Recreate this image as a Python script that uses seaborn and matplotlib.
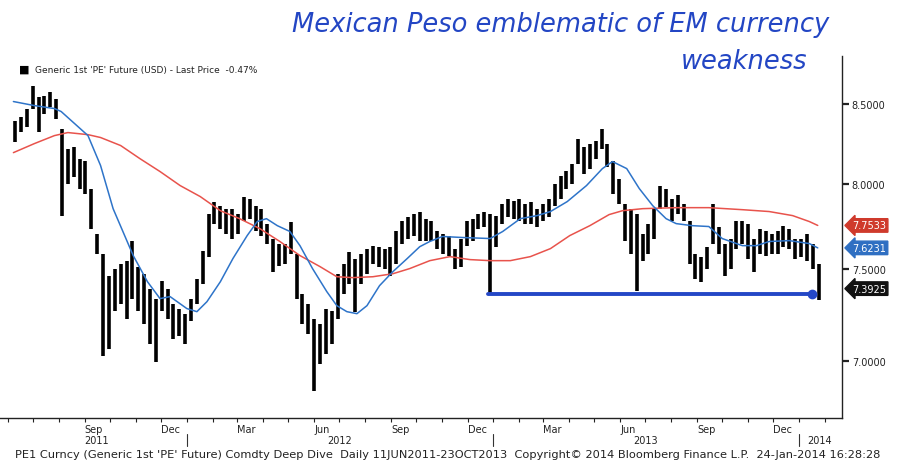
import numpy as np
import pandas as pd
import matplotlib
matplotlib.use("Agg")
import matplotlib.pyplot as plt
import matplotlib.dates as mdates
import matplotlib.transforms as mtransforms
import seaborn as sns

# Weekly high / low of the generic 1st PE future
highs = [8.392, 8.417, 8.468, 8.616, 8.545, 8.551, 8.577, 8.532, 8.341, 8.216,
         8.228, 8.154, 8.142, 7.972, 7.706, 7.590, 7.465, 7.505, 7.533, 7.550,
         7.660, 7.516, 7.476, 7.392, 7.337, 7.437, 7.392, 7.309, 7.282, 7.254,
         7.337, 7.448, 7.607, 7.823, 7.894, 7.870, 7.852, 7.852, 7.823, 7.924,
         7.912, 7.870, 7.852, 7.764, 7.677, 7.648, 7.648, 7.776, 7.590, 7.364,
         7.309, 7.227, 7.200, 7.282, 7.271, 7.476, 7.533, 7.601, 7.562, 7.590,
         7.619, 7.636, 7.630, 7.619, 7.630, 7.718, 7.781, 7.805, 7.823, 7.835,
         7.793, 7.781, 7.723, 7.706, 7.689, 7.619, 7.677, 7.781, 7.793, 7.823,
         7.835, 7.823, 7.811, 7.882, 7.912, 7.900, 7.912, 7.882, 7.894, 7.852,
         7.882, 7.912, 8.002, 8.050, 8.081, 8.124, 8.278, 8.228, 8.247, 8.266,
         8.341, 8.247, 8.142, 8.032, 7.882, 7.852, 7.823, 7.706, 7.764, 7.852,
         7.990, 7.972, 7.912, 7.936, 7.882, 7.781, 7.590, 7.573, 7.630, 7.882,
         7.747, 7.648, 7.677, 7.781, 7.781, 7.764, 7.677, 7.735, 7.718, 7.706,
         7.723, 7.752, 7.735, 7.677, 7.677, 7.706, 7.648, 7.533]
lows = [8.259, 8.322, 8.354, 8.468, 8.322, 8.436, 8.481, 8.404, 7.811, 8.002,
        8.044, 7.972, 7.942, 7.735, 7.590, 7.027, 7.065, 7.271, 7.309, 7.227,
        7.337, 7.271, 7.200, 7.092, 6.996, 7.271, 7.227, 7.119, 7.135, 7.092,
        7.216, 7.309, 7.420, 7.573, 7.764, 7.735, 7.706, 7.677, 7.706, 7.781,
        7.793, 7.723, 7.689, 7.648, 7.488, 7.522, 7.533, 7.590, 7.337, 7.200,
        7.145, 6.845, 6.986, 7.038, 7.092, 7.227, 7.364, 7.420, 7.265, 7.420,
        7.476, 7.533, 7.516, 7.505, 7.465, 7.533, 7.648, 7.677, 7.689, 7.660,
        7.665, 7.660, 7.619, 7.590, 7.579, 7.505, 7.516, 7.636, 7.665, 7.735,
        7.747, 7.364, 7.630, 7.764, 7.805, 7.793, 7.781, 7.764, 7.764, 7.747,
        7.781, 7.805, 7.870, 7.912, 7.972, 8.002, 8.124, 8.063, 8.093, 8.154,
        8.216, 8.105, 7.942, 7.882, 7.660, 7.590, 7.381, 7.550, 7.590, 7.677,
        7.852, 7.864, 7.781, 7.823, 7.781, 7.533, 7.448, 7.431, 7.505, 7.648,
        7.590, 7.465, 7.505, 7.619, 7.648, 7.562, 7.488, 7.590, 7.579, 7.590,
        7.590, 7.630, 7.619, 7.562, 7.573, 7.550, 7.505, 7.330]
bar_dates = pd.date_range("2011-06-10", periods=len(highs), freq="7D")

# 50 day moving average (blue)
ma50_dates = ["2011-06-08", "2011-07-03", "2011-07-27", "2011-08-04", "2011-09-05",
              "2011-09-20", "2011-10-05", "2011-10-29", "2011-11-15", "2011-11-30",
              "2011-12-12", "2012-01-01", "2012-01-13", "2012-01-25", "2012-02-10",
              "2012-02-25", "2012-03-13", "2012-03-25", "2012-04-05", "2012-04-18",
              "2012-05-03", "2012-05-15", "2012-05-30", "2012-06-16", "2012-06-28",
              "2012-07-10", "2012-07-22", "2012-08-03", "2012-08-18", "2012-09-03",
              "2012-09-20", "2012-10-05", "2012-10-17", "2012-11-01", "2012-11-25",
              "2012-12-28", "2013-01-12", "2013-02-02", "2013-02-22", "2013-03-10",
              "2013-03-30", "2013-04-22", "2013-05-11", "2013-05-23", "2013-06-09",
              "2013-06-24", "2013-07-10", "2013-07-26", "2013-08-07", "2013-08-26",
              "2013-09-15", "2013-10-01", "2013-10-25", "2013-11-11", "2013-11-26",
              "2013-12-20", "2014-01-13", "2014-01-23"]
ma50_vals = [8.513, 8.487, 8.468, 8.449, 8.297, 8.112, 7.852, 7.579, 7.431, 7.337,
             7.348, 7.282, 7.265, 7.320, 7.431, 7.562, 7.694, 7.776, 7.793, 7.752,
             7.718, 7.636, 7.505, 7.376, 7.298, 7.265, 7.254, 7.298, 7.409, 7.488,
             7.562, 7.630, 7.660, 7.689, 7.683, 7.677, 7.718, 7.793, 7.811, 7.835,
             7.894, 7.990, 8.093, 8.136, 8.093, 7.972, 7.870, 7.793, 7.764, 7.752,
             7.747, 7.677, 7.636, 7.636, 7.660, 7.665, 7.648, 7.6231]

# 200 day moving average (red)
ma200_dates = ["2011-06-08", "2011-07-03", "2011-07-27", "2011-08-12", "2011-09-05",
               "2011-09-20", "2011-10-14", "2011-11-06", "2011-11-30", "2011-12-24",
               "2012-01-17", "2012-02-10", "2012-03-04", "2012-03-28", "2012-04-21",
               "2012-05-15", "2012-06-08", "2012-06-28", "2012-07-17", "2012-08-10",
               "2012-09-03", "2012-09-23", "2012-10-17", "2012-11-10", "2012-12-04",
               "2012-12-28", "2013-01-21", "2013-02-14", "2013-03-10", "2013-04-02",
               "2013-04-26", "2013-05-19", "2013-06-04", "2013-06-28", "2013-08-07",
               "2013-09-15", "2013-10-25", "2013-11-26", "2013-12-24", "2014-01-13",
               "2014-01-23"]
ma200_vals = [8.191, 8.247, 8.297, 8.316, 8.303, 8.285, 8.235, 8.154, 8.075, 7.990,
              7.924, 7.840, 7.793, 7.735, 7.660, 7.579, 7.516, 7.459, 7.454, 7.459,
              7.476, 7.505, 7.550, 7.573, 7.556, 7.550, 7.550, 7.573, 7.619, 7.694,
              7.752, 7.817, 7.840, 7.852, 7.858, 7.858, 7.846, 7.835, 7.811, 7.776,
              7.7533]

# hand drawn support line
support_level = 7.365
support_span = ["2012-12-26", "2014-01-16"]

last_labels = ["7.7533", "7.6231", "7.3925"]
last_values = [7.7533, 7.6231, 7.3925]
last_colors = ["#cf3a2c", "#2f6fc2", "#111111"]

quarter_ticks = ["2011-09-01", "2011-12-01", "2012-03-01", "2012-06-01", "2012-09-01",
                 "2012-12-01", "2013-03-01", "2013-06-01", "2013-09-01", "2013-12-01"]

sns.set_style("white")
plt.rcParams["font.family"] = ["DejaVu Sans"]

fig = plt.figure(figsize=(9, 4.64), dpi=100)
ax = fig.add_axes([0.0, 0.097, 0.9356, 0.78])

ax.vlines(bar_dates, lows, highs, color="black", lw=2.6, zorder=2)
sns.lineplot(x=pd.to_datetime(ma200_dates), y=ma200_vals, color="#e8534c",
             lw=1.1, ax=ax, zorder=3)
sns.lineplot(x=pd.to_datetime(ma50_dates), y=ma50_vals, color="#2e74c9",
             lw=1.1, ax=ax, zorder=3)

span = pd.to_datetime(support_span)
ax.plot(span, [support_level, support_level], color="#2447c6", lw=2.8,
        solid_capstyle="round", zorder=4)
ax.plot(span[1:], [support_level], "o", color="#2447c6", ms=6, zorder=4)

ax.set_yscale("log")
ax.set_ylim(6.705, 8.81)
ax.set_xlim(pd.Timestamp("2011-05-23"), pd.Timestamp("2014-02-21"))
ax.yaxis.tick_right()
ax.set_yticks([7.0, 7.5, 8.0, 8.5])
ax.set_yticklabels(["7.0000", "7.5000", "8.0000", "8.5000"])
ax.yaxis.set_minor_locator(matplotlib.ticker.NullLocator())
ax.tick_params(axis="y", right=True, direction="out", length=5, width=1.6,
               labelsize=7, pad=2, colors="#222222")

ax.xaxis.set_major_locator(matplotlib.ticker.FixedLocator(
    mdates.date2num(pd.to_datetime(quarter_ticks))))
ax.xaxis.set_minor_locator(mdates.MonthLocator())
ax.xaxis.set_major_formatter(mdates.DateFormatter("%b"))
ax.tick_params(axis="x", which="both", bottom=True, direction="out", length=3,
               width=0.8, labelsize=7, pad=1, colors="#222222")
for lbl in ax.get_xticklabels():
    lbl.set_horizontalalignment("left")

for side in ["top", "left"]:
    ax.spines[side].set_visible(False)
for side in ["right", "bottom"]:
    ax.spines[side].set_color("#222222")
    ax.spines[side].set_linewidth(1.0)
ax.set_xlabel("")
ax.set_ylabel("")

trans = mtransforms.blended_transform_factory(ax.transData, ax.transAxes)
years = [("2011", "2011-09-15", "center"), ("2012", "2012-07-01", "center"),
         ("2013", "2013-07-01", "center"), ("2014", "2014-01-10", "left")]
for txt, d, ha in years:
    ax.text(pd.Timestamp(d), -0.06, txt, transform=trans, ha=ha, va="center",
            fontsize=7, color="#222222")
for d in ["2012-01-01", "2013-01-01", "2014-01-01"]:
    ax.plot([pd.Timestamp(d)] * 2, [-0.045, -0.078], transform=trans,
            color="#333333", lw=0.8, clip_on=False)

ytrans = mtransforms.blended_transform_factory(ax.transAxes, ax.transData)
for lab, v, c in zip(last_labels, last_values, last_colors):
    ax.text(1.012, v, lab, transform=ytrans, ha="left", va="center", fontsize=7,
            color="white", bbox=dict(boxstyle="larrow,pad=0.18", fc=c, ec=c))

fig.text(0.021, 1 - 70 / 464, "\u25a0", fontsize=8, va="center", color="black")
fig.text(0.039, 1 - 70 / 464, "Generic 1st 'PE' Future (USD) - Last Price  -0.47%",
         fontsize=6.5, va="center", color="#222222")

fig.text(0.623, 1 - 25 / 464, "Mexican Peso emblematic of EM currency",
         fontsize=18.5, style="italic", color="#2346c4", ha="center", va="center")
fig.text(0.827, 1 - 62 / 464, "weakness", fontsize=18.5, style="italic",
         color="#2346c4", ha="center", va="center")

fig.text(0.017, 1 - 455 / 464,
         "PE1 Curncy (Generic 1st 'PE' Future) Comdty Deep Dive  Daily 11JUN2011-23OCT2013  "
         "Copyright\u00a9 2014 Bloomberg Finance L.P.  24-Jan-2014 16:28:28",
         fontsize=8.2, va="center", color="#222222")

fig.savefig("out.png", dpi=100)
